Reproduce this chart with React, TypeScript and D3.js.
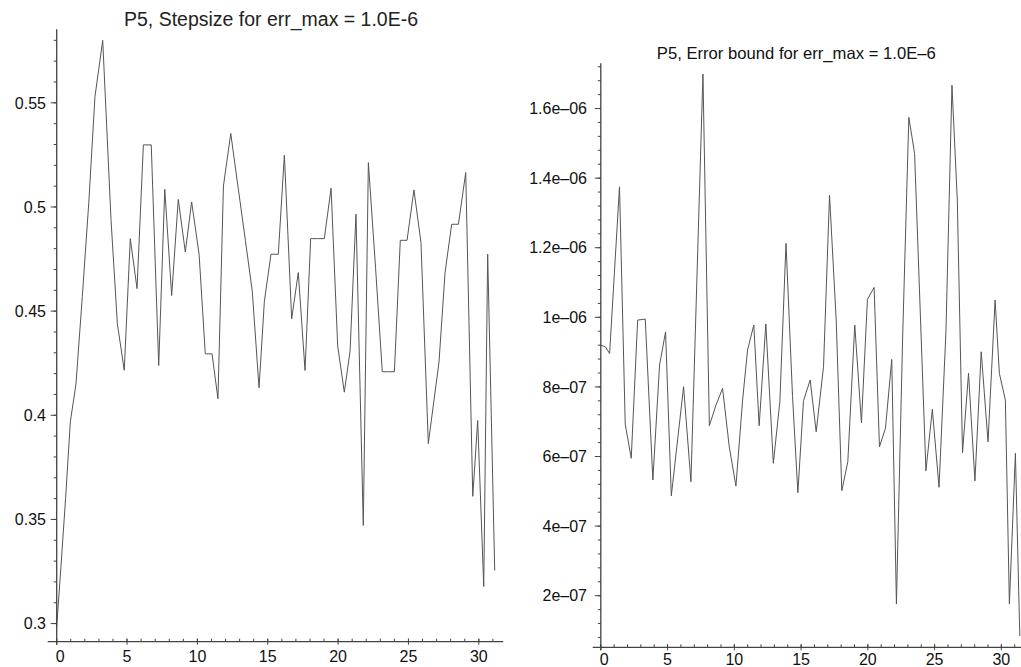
import { useMemo } from "react";
import * as d3 from "d3";

// ── Data ─────────────────────────────────────────────────────────────

// Stepsize h at time t
const stepT = [
  0, 0.3, 0.63, 0.97, 1.37, 1.82, 2.28, 2.72, 3.27, 3.86, 4.31, 4.8, 5.23, 5.71,
  6.16, 6.72, 7.25, 7.68, 8.17, 8.64, 9.14, 9.59, 10.12, 10.56, 11.04, 11.46,
  11.85, 12.37, 12.9, 13.41, 13.9, 14.38, 14.76, 15.23, 15.75, 16.18, 16.7,
  17.17, 17.65, 18.05, 18.54, 19.02, 19.5, 19.97, 20.44, 20.85, 21.27, 21.79,
  22.15, 22.66, 23.14, 23.57, 24.0, 24.42, 24.9, 25.39, 25.89, 26.41, 26.79,
  27.17, 27.6, 28.07, 28.55, 29.07, 29.57, 29.92, 30.35, 30.63, 31.13,
];
const stepH = [
  0.2986, 0.327, 0.36, 0.397, 0.415, 0.457, 0.502, 0.553, 0.58, 0.494, 0.444,
  0.4216, 0.4848, 0.4608, 0.5298, 0.5298, 0.4239, 0.5085, 0.4575, 0.5036,
  0.4784, 0.5024, 0.4773, 0.4295, 0.4295, 0.4079, 0.5101, 0.5353, 0.509, 0.484,
  0.4596, 0.4132, 0.4548, 0.4773, 0.4773, 0.5249, 0.4463, 0.4685, 0.4215,
  0.4848, 0.4848, 0.4848, 0.509, 0.4332, 0.4111, 0.4308, 0.4965, 0.3471,
  0.5213, 0.471, 0.4209, 0.4209, 0.4209, 0.484, 0.484, 0.5082, 0.4829, 0.3864,
  0.406, 0.4255, 0.4685, 0.4917, 0.4917, 0.5165, 0.3611, 0.3975, 0.3178,
  0.4773, 0.3255,
];

// Error bound (units of 1e-6) at time t
const errT = [
  0, 0.35, 0.66, 1.4, 1.83, 2.28, 2.76, 3.33, 3.9, 4.4, 4.85, 5.28, 6.2, 6.75,
  7.65, 8.13, 8.63, 9.12, 9.62, 10.12, 10.62, 10.99, 11.46, 11.86, 12.36, 12.92,
  13.41, 13.87, 14.36, 14.76, 15.18, 15.68, 16.13, 16.68, 17.13, 17.63, 18.05,
  18.5, 19.02, 19.52, 19.97, 20.47, 20.87, 21.32, 21.79, 22.14, 22.6, 23.07,
  23.5, 24.35, 24.83, 25.33, 25.85, 26.3, 26.7, 27.09, 27.54, 28.02, 28.49,
  29.0, 29.53, 29.85, 30.3, 30.6, 31.05, 31.38,
];
const errV = [
  0.92, 0.915, 0.896, 1.375, 0.6925, 0.595, 0.992, 0.995, 0.5325, 0.863, 0.958,
  0.487, 0.8006, 0.5276, 1.699, 0.6886, 0.748, 0.796, 0.628, 0.515, 0.762,
  0.906, 0.978, 0.6885, 0.981, 0.5805, 0.7575, 1.2126, 0.772, 0.496, 0.76,
  0.8198, 0.671, 0.858, 1.351, 0.992, 0.5017, 0.585, 0.978, 0.697, 1.0517,
  1.086, 0.628, 0.681, 0.879, 0.176, 0.935, 1.5747, 1.471, 0.559, 0.7356,
  0.5115, 0.96, 1.667, 1.337, 0.611, 0.839, 0.53, 0.901, 0.6425, 1.0497, 0.839,
  0.762, 0.176, 0.609, 0.084,
].map((v) => v * 1e-6);

const xTicks = [0, 5, 10, 15, 20, 25, 30];
const stepTicks = [0.3, 0.35, 0.4, 0.45, 0.5, 0.55];
const stepTickLabels = ["0.3", "0.35", "0.4", "0.45", "0.5", "0.55"];
const errTicks = [2e-7, 4e-7, 6e-7, 8e-7, 1e-6, 1.2e-6, 1.4e-6, 1.6e-6];
const errTickLabels = [
  "2e–07", "4e–07", "6e–07", "8e–07", "1e–06", "1.2e–06", "1.4e–06", "1.6e–06",
];

const TITLE_STEP = "P5, Stepsize for err_max = 1.0E-6";
const TITLE_ERR = "P5, Error bound for err_max = 1.0E–6";

// ── Layout ───────────────────────────────────────────────────────────

const W = 1021;
const H = 667;
const AXIS = "#444";
const LINE = "#555";
const FONT = "'Liberation Sans', Arial, sans-serif";

interface PanelProps {
  tx: number[];
  vy: number[];
  xDomain: [number, number];
  xRange: [number, number];
  yDomain: [number, number];
  yRange: [number, number];
  yTicks: number[];
  yLabels: string[];
  yMinorStep: number;
  axisLeft: number;
  xLabelY: number;
  yLabelEnd: number;
}

function Panel(p: PanelProps) {
  const x = d3.scaleLinear().domain(p.xDomain).range(p.xRange);
  const y = d3.scaleLinear().domain(p.yDomain).range(p.yRange);
  const x0 = x(0);
  const yBase = p.yRange[0];

  const path = useMemo(
    () =>
      d3
        .line<number>()
        .x((_, i) => x(p.tx[i]))
        .y((d) => y(d))(p.vy) || "",
    [p],
  );

  const xMinor = d3.range(0, Math.floor(p.xDomain[1]) + 1);
  const yMinor = d3
    .range(
      Math.ceil(p.yDomain[0] / p.yMinorStep),
      Math.floor(p.yDomain[1] / p.yMinorStep) + 1,
    )
    .map((k) => k * p.yMinorStep);

  return (
    <g>
      <path d={path} fill="none" stroke={LINE} strokeWidth={1} />

      {/* axes */}
      <line x1={p.axisLeft} x2={p.xRange[1]} y1={yBase} y2={yBase} stroke={AXIS} strokeWidth={1.3} />
      <line x1={x0} x2={x0} y1={p.yRange[1]} y2={yBase + 3} stroke={AXIS} strokeWidth={1.3} />

      {xMinor.map((t) => (
        <line key={`xm${t}`} x1={x(t)} x2={x(t)} y1={yBase} y2={yBase - 3} stroke={AXIS} />
      ))}
      {xTicks.map((t) => (
        <g key={`xt${t}`}>
          <line x1={x(t)} x2={x(t)} y1={yBase - 3} y2={yBase + 3} stroke={AXIS} />
          <text
            x={x(t) + (t === 0 ? 3.5 : 0)}
            y={p.xLabelY}
            textAnchor="middle"
            fontSize={16}
            fontFamily={FONT}
            fill="#111"
          >
            {t}
          </text>
        </g>
      ))}

      {yMinor.map((v, i) => (
        <line key={`ym${i}`} x1={x0 - 3} x2={x0} y1={y(v)} y2={y(v)} stroke={AXIS} />
      ))}
      {p.yTicks.map((v, i) => (
        <g key={`yt${i}`}>
          <line x1={x0 - 6} x2={x0} y1={y(v)} y2={y(v)} stroke={AXIS} />
          <text
            x={p.yLabelEnd}
            y={y(v)}
            dy="0.36em"
            textAnchor="end"
            fontSize={16}
            fontFamily={FONT}
            fill="#111"
          >
            {p.yLabels[i]}
          </text>
        </g>
      ))}
    </g>
  );
}

export default function App() {
  return (
    <div style={{ position: "absolute", left: 0, top: 0, width: W, height: H, background: "#fff" }}>
      <svg width={W} height={H} style={{ display: "block" }}>
        <rect width={W} height={H} fill="#fff" />

        <text
          x={271}
          y={26}
          textAnchor="middle"
          fontSize={19.5}
          fontFamily={FONT}
          fill="#222"
          textLength={294}
          lengthAdjust="spacingAndGlyphs"
        >
          {TITLE_STEP}
        </text>
        <Panel
          tx={stepT}
          vy={stepH}
          xDomain={[0, 31.74]}
          xRange={[56.7, 503.3]}
          yDomain={[0.2913, 0.5853]}
          yRange={[641.7, 29.3]}
          yTicks={stepTicks}
          yLabels={stepTickLabels}
          yMinorStep={0.01}
          axisLeft={47.7}
          xLabelY={662}
          yLabelEnd={46}
        />

        <text
          x={796.3}
          y={59}
          textAnchor="middle"
          fontSize={16.5}
          fontFamily={FONT}
          fill="#111"
          textLength={279}
          lengthAdjust="spacingAndGlyphs"
        >
          {TITLE_ERR}
        </text>
        <Panel
          tx={errT}
          vy={errV}
          xDomain={[0, 31.47]}
          xRange={[600.8, 1021]}
          yDomain={[0.0517e-6, 1.73e-6]}
          yRange={[647.3, 63.3]}
          yTicks={errTicks}
          yLabels={errTickLabels}
          yMinorStep={0.04e-6}
          axisLeft={592.7}
          xLabelY={665}
          yLabelEnd={587}
        />
      </svg>
    </div>
  );
}
